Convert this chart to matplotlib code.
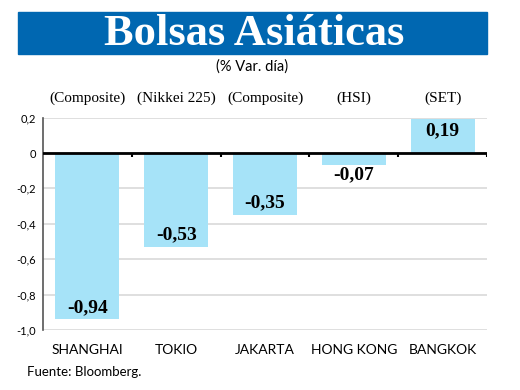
import numpy as np
import matplotlib
matplotlib.use("Agg")
import matplotlib.pyplot as plt
from matplotlib.patches import Rectangle

# --- DATOS ---
plazas = ["SHANGHAI", "TOKIO", "JAKARTA", "HONG KONG", "BANGKOK"]
indices = ["(Composite)", "(Nikkei 225)", "(Composite)", "(HSI)", "(SET)"]
variacion = [-0.94, -0.53, -0.35, -0.07, 0.19]
yticks = [0.2, 0.0, -0.2, -0.4, -0.6, -0.8, -1.0]
ytick_labels = ["0,2", "0", "-0,2", "-0,4", "-0,6", "-0,8", "-1,0"]

AZUL = "#0067b1"
CELESTE = "#a6e3f8"
SANS = "Lato"
SERIF = "Liberation Serif"

fig = plt.figure(figsize=(5.2, 3.9), dpi=100)

# --- BANNER DEL TITULO ---
fig.patches.append(Rectangle((18 / 520, 1 - 54 / 390), 469 / 520, 42 / 390,
                             transform=fig.transFigure, color=AZUL, zorder=0))
fig.text(254 / 520, 1 - 34 / 390, "Bolsas Asiáticas", color="white",
         fontsize=32, fontweight="bold", family=SERIF, ha="center", va="center")
fig.text(252 / 520, 1 - 67 / 390, "(% Var. día)", fontsize=10.5, family=SANS,
         ha="center", va="center")

# --- GRAFICO ---
ax = fig.add_axes([43 / 520, 60 / 390, 444 / 520, 212.4 / 390])
x = np.arange(len(plazas))
ax.bar(x, variacion, width=0.72, color=CELESTE, zorder=2)

ax.set_xlim(-0.5, len(plazas) - 0.5)
ax.set_ylim(-1.0, 0.2)
ax.set_yticks(yticks)
ax.set_yticklabels(ytick_labels, fontsize=8, family=SANS)
ax.set_xticks(x)
ax.set_xticklabels(plazas, fontsize=10, family=SANS)
ax.tick_params(axis="both", length=0)
ax.tick_params(axis="x", pad=10)
ax.tick_params(axis="y", pad=5)

for s in ["top", "right", "bottom"]:
    ax.spines[s].set_visible(False)
ax.spines["left"].set_color("#555555")
ax.spines["left"].set_linewidth(1.2)

ax.grid(axis="y", color="#d9d9d9", linewidth=1.2, zorder=0)
ax.set_axisbelow(True)
ax.axhline(0, color="black", linewidth=2, zorder=3)
ax.vlines(np.arange(len(plazas)) + 0.5, -0.025, 0, color="black",
          linewidth=1.5, zorder=3)

# Etiquetas de valor
for xi, v in zip(x, variacion):
    txt = f"{v:.2f}".replace(".", ",")
    if v >= 0:
        y, va = v - 0.015, "top"
    elif v < -0.1:
        y, va = v + 0.02, "bottom"
    else:
        y, va = v - 0.005, "top"
    ax.text(xi, y, txt, ha="center", va=va, fontsize=14, fontweight="bold",
            family=SERIF, zorder=4)

# Nombres de los indices sobre el grafico
for xi, nombre in zip(x, indices):
    ax.text(xi, 1.092, nombre, transform=ax.get_xaxis_transform(),
            ha="center", va="center", fontsize=11, family=SERIF)

fig.text(27 / 520, 1 - 372 / 390, "Fuente: Bloomberg.", fontsize=9.5,
         family=SANS, ha="left", va="center")

fig.savefig("out.png", dpi=100)
